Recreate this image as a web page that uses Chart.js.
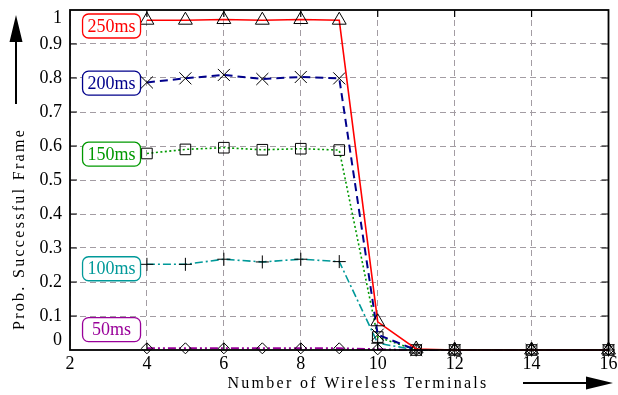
<!DOCTYPE html>
<html>
<head>
<meta charset="utf-8">
<script src="https://cdn.jsdelivr.net/npm/chart.js@4.4.1/dist/chart.umd.min.js"></script>
<style>
  html, body { margin: 0; padding: 0; background: #fff; }
</style>
</head>
<body>
<canvas id="chart" width="618" height="395"></canvas>
<script>
// values
const terminals = [4, 5, 6, 7, 8, 9, 10, 11, 12, 14, 16];
const p250 = [0.97, 0.97, 0.972, 0.97, 0.972, 0.97, 0.083, 0.003, 0, 0, 0];
const p200 = [0.787, 0.799, 0.809, 0.797, 0.803, 0.799, 0.045, 0, 0, 0, 0];
const p150 = [0.578, 0.59, 0.595, 0.589, 0.592, 0.588, 0.038, 0, 0, 0, 0];
const p100 = [0.252, 0.252, 0.267, 0.259, 0.267, 0.26, 0.02, 0, 0, 0, 0];
const p50  = [0.005, 0.005, 0.005, 0.005, 0.005, 0.005, 0.002, 0, 0, 0, 0];

const seriesNames = ["250ms", "200ms", "150ms", "100ms", "50ms"];
const yTickVals = [0.03, 0.1, 0.2, 0.3, 0.4, 0.5, 0.6, 0.7, 0.8, 0.9, 0.976];
const yTickText = ["0", "0.1", "0.2", "0.3", "0.4", "0.5", "0.6", "0.7", "0.8", "0.9", "1"];
const xTitle = "Number of Wireless Terminals";
const yTitle = "Prob. Successful Frame";

// where the name tags sit (data units)
const tagX = 3.08;
const tagY = [0.953, 0.785, 0.576, 0.239, 0.06];

const colors = ["#ff0000", "#00008b", "#009900", "#009999", "#990099"];
const gridColor = "#a39ca3";
const serif = "'Liberation Serif', 'DejaVu Serif', serif";

function series(i, data, dash, style, r, w){
  return {
    label: seriesNames[i],
    data: terminals.map((x, k) => ({ x: x, y: data[k] })),
    borderColor: colors[i],
    borderWidth: w,
    borderDash: dash,
    pointStyle: style,
    pointRadius: r,
    pointHoverRadius: r,
    pointBorderColor: "#000",
    pointBackgroundColor: "rgba(0,0,0,0)",
    pointBorderWidth: 1,
    tension: 0,
    fill: false,
    clip: false
  };
}

const decor = {
  id: "decor",
  afterDatasetsDraw(chart){
    const ctx = chart.ctx, a = chart.chartArea;
    const xs = chart.scales.x, ys = chart.scales.y;
    ctx.save();
    // inward tick marks on all four sides
    ctx.strokeStyle = "#000"; ctx.lineWidth = 1.2;
    ctx.beginPath();
    [4, 6, 8, 10, 12, 14].forEach(v => {
      const px = xs.getPixelForValue(v);
      ctx.moveTo(px, a.top); ctx.lineTo(px, a.top + 7);
      ctx.moveTo(px, a.bottom); ctx.lineTo(px, a.bottom - 7);
    });
    yTickVals.slice(1, -1).forEach(v => {
      const py = ys.getPixelForValue(v);
      ctx.moveTo(a.left, py); ctx.lineTo(a.left + 7, py);
      ctx.moveTo(a.right, py); ctx.lineTo(a.right - 7, py);
    });
    ctx.stroke();
    // frame
    ctx.lineWidth = 1.8;
    ctx.strokeRect(a.left, a.top, a.right - a.left, a.bottom - a.top);
    ctx.restore();
  },
  afterDraw(chart){
    const ctx = chart.ctx;
    const xs = chart.scales.x, ys = chart.scales.y;
    ctx.save();
    // name tags
    ctx.font = "18px " + serif;
    ctx.textAlign = "center"; ctx.textBaseline = "middle";
    seriesNames.forEach((n, i) => {
      const cx = xs.getPixelForValue(tagX), cy = ys.getPixelForValue(tagY[i]);
      ctx.beginPath();
      ctx.roundRect(cx - 29, cy - 12, 58, 24, 6);
      ctx.fillStyle = "#fff"; ctx.fill();
      ctx.strokeStyle = colors[i]; ctx.lineWidth = 1.3; ctx.stroke();
      ctx.fillStyle = colors[i];
      ctx.fillText(n, cx, cy + 1);
    });
    // axis titles, letter spaced
    ctx.fillStyle = "#000";
    ctx.font = "16px " + serif;
    ctx.letterSpacing = "2.3px";
    ctx.fillText(xTitle, 358, 384);
    ctx.save();
    ctx.translate(20, 229);
    ctx.rotate(-Math.PI / 2);
    ctx.fillText(yTitle, 0, 0);
    ctx.restore();
    ctx.letterSpacing = "0px";
    // arrows
    ctx.strokeStyle = "#000"; ctx.lineWidth = 2;
    ctx.beginPath();
    ctx.moveTo(16, 104); ctx.lineTo(16, 40);
    ctx.moveTo(523, 383); ctx.lineTo(588, 383);
    ctx.stroke();
    ctx.beginPath();
    ctx.moveTo(16, 15); ctx.lineTo(22.5, 42); ctx.lineTo(9.5, 42); ctx.closePath();
    ctx.moveTo(613, 383); ctx.lineTo(586, 376.5); ctx.lineTo(586, 389.5); ctx.closePath();
    ctx.fill();
    ctx.restore();
  }
};

new Chart(document.getElementById("chart"), {
  type: "line",
  data: {
    datasets: [
      series(0, p250, [], "triangle", 8, 1.6),
      series(1, p200, [8, 5], "crossRot", 8.5, 2),
      series(2, p150, [2, 2.5], "rect", 7.5, 1.6),
      series(3, p100, [8, 3, 2, 3], "cross", 6.5, 1.6),
      series(4, p50, [8, 3, 2, 3, 2, 3], "rectRot", 5.5, 2)
    ]
  },
  options: {
    responsive: false,
    devicePixelRatio: 1,
    animation: false,
    layout: { padding: { left: 0, right: 4, top: 10, bottom: 0 } },
    plugins: { legend: { display: false }, tooltip: { enabled: false } },
    scales: {
      x: {
        type: "linear",
        min: 2, max: 16,
        ticks: { stepSize: 2, padding: 3, color: "#000", font: { family: serif, size: 18 } },
        grid: { color: gridColor, lineWidth: 1, drawTicks: false },
        border: { display: false, dash: [6, 4] },
        afterFit(s){ s.height = 45; s.paddingLeft = 0; s.paddingRight = 0; }
      },
      y: {
        min: 0, max: 1,
        afterBuildTicks(s){ s.ticks = yTickVals.map(v => ({ value: v })); },
        ticks: {
          padding: 8, color: "#000", font: { family: serif, size: 18 },
          callback: (v, i) => yTickText[i]
        },
        grid: {
          lineWidth: 1, drawTicks: false,
          color: c => (c.tick && (c.tick.value < 0.05 || c.tick.value > 0.95)) ? "rgba(0,0,0,0)" : gridColor
        },
        border: { display: false, dash: [6, 4] },
        afterFit(s){ s.width = 70; s.paddingTop = 0; s.paddingBottom = 0; }
      }
    }
  },
  plugins: [decor]
});
</script>
</body>
</html>
